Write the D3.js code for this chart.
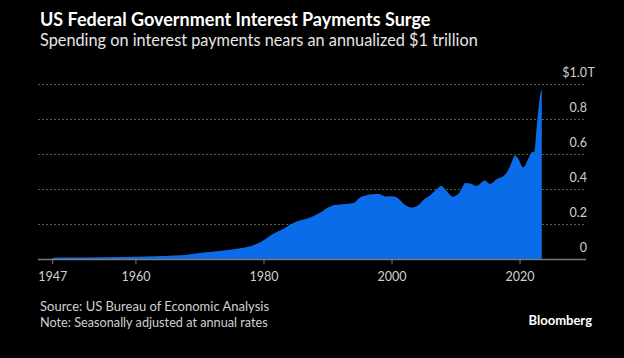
<!DOCTYPE html>
<html>
<head>
<meta charset="utf-8">
<script src="https://cdn.jsdelivr.net/npm/d3@7"></script>
<style>
  html, body { margin: 0; padding: 0; background: #000; }
  svg { display: block; }
  text { font-family: Lato, "Noto Sans", sans-serif; }
</style>
</head>
<body>
<svg id="chart" width="624" height="358"></svg>
<script>
// ---- data (trillions of USD, annualized) ----
const years = [1947, 1950, 1955, 1960, 1963, 1966, 1968, 1970, 1972, 1974, 1976, 1978, 1979,
  1980, 1981, 1982, 1983, 1984, 1985, 1986, 1987, 1988, 1989, 1990, 1991, 1992, 1993, 1994,
  1995, 1996, 1997, 1998, 1999, 2000, 2001, 2002, 2003, 2004, 2005, 2006, 2007, 2007.7,
  2008.5, 2009.5, 2010.4, 2011.5, 2012.3, 2013.2, 2014.5, 2015.3, 2016.4, 2017.4, 2018.2,
  2018.8, 2019.2, 2019.7, 2020.5, 2021.3, 2021.8, 2022.2, 2022.7, 2023.1, 2023.4];
const payments = [0.007, 0.008, 0.010, 0.013, 0.016, 0.020, 0.025, 0.034, 0.041, 0.050, 0.060, 0.075, 0.088,
  0.108, 0.135, 0.155, 0.172, 0.195, 0.213, 0.225, 0.235, 0.250, 0.270, 0.295, 0.308, 0.312, 0.316, 0.320,
  0.352, 0.365, 0.370, 0.372, 0.357, 0.358, 0.345, 0.310, 0.295, 0.305, 0.340, 0.366, 0.400, 0.417,
  0.390, 0.356, 0.375, 0.435, 0.430, 0.417, 0.448, 0.429, 0.457, 0.474, 0.512,
  0.565, 0.592, 0.575, 0.524, 0.575, 0.608, 0.613, 0.794, 0.927, 0.975];
const xTicks = [1947, 1960, 1980, 2000, 2020];
const yTicks = [0, 0.2, 0.4, 0.6, 0.8, 1.0];
const yTickLabels = ["0", "0.2", "0.4", "0.6", "0.8", "$1.0"];
const yUnit = "T";

const title = "US Federal Government Interest Payments Surge";
const subtitle = "Spending on interest payments nears an annualized $1 trillion";
const source = "Source: US Bureau of Economic Analysis";
const note = "Note: Seasonally adjusted at annual rates";

const svg = d3.select("#chart");
const data = years.map((y, i) => ({ year: y, value: payments[i] }));

const x = d3.scaleLinear().domain([1944.7, 2030.3]).range([38, 586]);
const y = d3.scaleLinear().domain([0, 1]).range([259, 84]);

// titles
svg.append("text").attr("x", 40).attr("y", 26)
  .attr("fill", "#fff").attr("font-size", 18).attr("font-weight", 700).text(title);
svg.append("text").attr("x", 40).attr("y", 46)
  .attr("fill", "#e6e6e6").attr("font-size", 16.3).text(subtitle);

// gridlines
svg.append("g").selectAll("line").data(yTicks.filter(d => d > 0)).join("line")
  .attr("x1", 38).attr("x2", 586)
  .attr("y1", d => Math.round(y(d)) + 0.5).attr("y2", d => Math.round(y(d)) + 0.5)
  .attr("stroke", "#5a5a5a").attr("stroke-width", 1).attr("stroke-dasharray", "2,2");

// y labels
svg.append("g").selectAll("text").data(yTicks).join("text")
  .attr("x", 587).attr("y", d => y(d) - 7)
  .attr("text-anchor", "end").attr("fill", "#d0d0d0").attr("font-size", 12.5)
  .text((d, i) => yTickLabels[i]);
svg.append("text").attr("x", 587.5).attr("y", y(yTicks[yTicks.length - 1]) - 7)
  .attr("fill", "#d0d0d0").attr("font-size", 12.5).text(yUnit);

// area
const area = d3.area().x(d => x(d.year)).y0(y(0)).y1(d => y(d.value)).curve(d3.curveMonotoneX);
svg.append("path").datum(data).attr("d", area).attr("fill", "#0a6ce8");

// x axis
svg.append("line").attr("x1", 38).attr("x2", 586).attr("y1", 259.5).attr("y2", 259.5)
  .attr("stroke", "#7a7a7a").attr("stroke-width", 1.5);
const xg = svg.append("g");
xg.selectAll("line").data(xTicks).join("line")
  .attr("x1", d => x(d)).attr("x2", d => x(d)).attr("y1", 259).attr("y2", 264)
  .attr("stroke", "#7a7a7a").attr("stroke-width", 1);
xg.selectAll("text").data(xTicks).join("text")
  .attr("x", d => x(d)).attr("y", 281).attr("text-anchor", "middle")
  .attr("fill", "#d0d0d0").attr("font-size", 12.5).text(d => d);

// footer
svg.append("text").attr("x", 40).attr("y", 311).attr("fill", "#d0d0d0").attr("font-size", 13).text(source);
svg.append("text").attr("x", 40).attr("y", 327).attr("fill", "#d0d0d0").attr("font-size", 12.7).text(note);
svg.append("text").attr("x", 592).attr("y", 325).attr("text-anchor", "end")
  .attr("fill", "#fff").attr("font-size", 13).attr("font-weight", 700).text("Bloomberg");
</script>
</body>
</html>
